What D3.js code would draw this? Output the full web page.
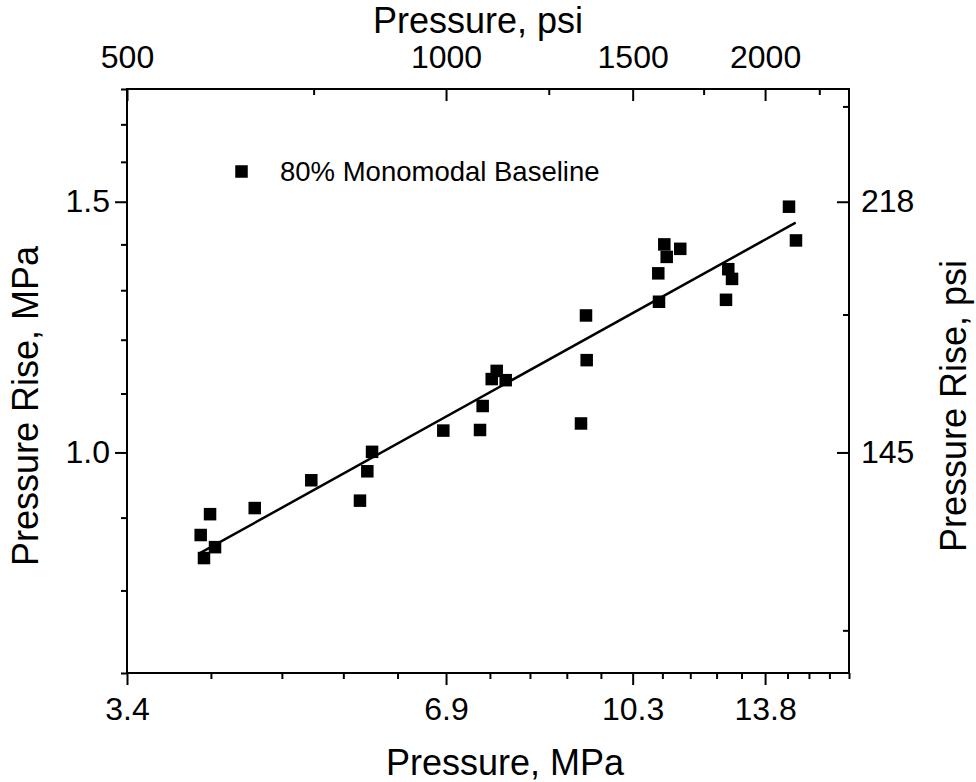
<!DOCTYPE html>
<html>
<head>
<meta charset="utf-8">
<script src="https://cdn.jsdelivr.net/npm/d3@7"></script>
<style>
  body { margin: 0; background: #fff; }
  svg { font-family: Arial, "Liberation Sans", sans-serif; }
</style>
</head>
<body>
<div id="wrapper"></div>
<script>
const PSI_TO_MPA = 0.0068948

// measured points (both in MPa)
const pressureMPa = [4.046, 4.075, 4.129, 4.174, 4.550, 5.145, 5.719, 5.811, 5.871, 6.854,
  7.423, 7.466, 7.614, 7.697, 7.849, 9.244, 9.359, 9.345, 10.934, 10.951,
  11.078, 11.136, 11.469, 12.667, 12.730, 12.834, 14.525, 14.747]
const riseMPa = [0.875, 0.843, 0.905, 0.858, 0.914, 0.956, 0.925, 0.970, 1.001, 1.036,
  1.037, 1.078, 1.126, 1.141, 1.124, 1.048, 1.161, 1.248, 1.336, 1.276,
  1.400, 1.372, 1.390, 1.280, 1.345, 1.324, 1.488, 1.409]

// fitted line end points
const fitPressureMPa = [4.043, 14.737]
const fitRiseMPa = [0.850, 1.450]

const seriesName = "80% Monomodal Baseline"

// axes
const pressureRangePsi = [500, 2400]
const riseRangeMPa = [0.7, 1.8]

const bottomMinorPsi = [600, 700, 800, 900, 1100, 1200, 1300, 1400, 1600, 1700, 1800, 1900, 2100, 2200, 2300, 2400]
const bottomMajorPsi = [500, 1000, 1500, 2000]
const bottomLabels = ["3.4", "6.9", "10.3", "13.8"]

const topMinorPsi = [750, 1250, 1750, 2250]
const topMajorPsi = [500, 1000, 1500, 2000]
const topLabels = ["500", "1000", "1500", "2000"]

const leftMinorMPa = [0.7, 0.8, 0.9, 1.1, 1.2, 1.3, 1.4, 1.6, 1.7, 1.8]
const leftMajorMPa = [1.0, 1.5]
const leftLabels = ["1.0", "1.5"]

const rightMinorMPa = [0.75, 1.25, 1.75]
const rightMajorMPa = [1.0, 1.5]
const rightLabels = ["145", "218"]

function drawChart() {
    const dataset = pressureMPa.map((p, i) => ({ p: p, r: riseMPa[i] }))
    const xAccessor = d => d.p
    const yAccessor = d => d.r

    const tickFont = 32
    const titleFont = 36

    let dimensions = {
      width: 976,
      height: 782,
      margin: {
        top: 89,
        right: 127,
        bottom: 109,
        left: 127,
      },
    }
    dimensions.boundedWidth = dimensions.width
      - dimensions.margin.left
      - dimensions.margin.right
    dimensions.boundedHeight = dimensions.height
      - dimensions.margin.top
      - dimensions.margin.bottom

    const wrapper = d3.select("#wrapper")
        .append("svg")
        .attr("width", dimensions.width)
        .attr("height", dimensions.height)

    const bounds = wrapper.append("g")
        .attr("transform", `translate(${dimensions.margin.left}, ${dimensions.margin.top})`)

    const xScaler = d3.scaleLog()
        .domain(pressureRangePsi.map(p => p * PSI_TO_MPA))
        .range([0, dimensions.boundedWidth])
    const xPsiScaler = d3.scaleLog()
        .domain(pressureRangePsi)
        .range([0, dimensions.boundedWidth])
    const yScaler = d3.scaleLog()
        .domain(riseRangeMPa)
        .range([dimensions.boundedHeight, 0])

    const styleAxis = g => {
        g.select(".domain").remove()
        g.selectAll(".tick line").attr("stroke", "#000").attr("stroke-width", 2)
        g.selectAll("text").attr("font-size", tickFont).attr("fill", "#000")
            .attr("font-family", "Arial, 'Liberation Sans', sans-serif")
    }

    // bottom axis (MPa)
    bounds.append("g")
        .attr("transform", `translate(0, ${dimensions.boundedHeight})`)
        .call(d3.axisBottom(xScaler)
            .tickValues(bottomMinorPsi.map(p => p * PSI_TO_MPA))
            .tickSize(6).tickFormat(""))
        .call(styleAxis)
    bounds.append("g")
        .attr("transform", `translate(0, ${dimensions.boundedHeight})`)
        .call(d3.axisBottom(xScaler)
            .tickValues(bottomMajorPsi.map(p => p * PSI_TO_MPA))
            .tickSize(12).tickPadding(12)
            .tickFormat((d, i) => bottomLabels[i]))
        .call(styleAxis)

    // top axis (psi), ticks inward
    bounds.append("g")
        .call(d3.axisTop(xPsiScaler)
            .tickValues(topMinorPsi)
            .tickSizeInner(-6).tickSizeOuter(0).tickFormat(""))
        .call(styleAxis)
    bounds.append("g")
        .call(d3.axisTop(xPsiScaler)
            .tickValues(topMajorPsi)
            .tickSizeInner(-12).tickSizeOuter(0).tickPadding(21)
            .tickFormat((d, i) => topLabels[i]))
        .call(styleAxis)

    // left axis (MPa)
    bounds.append("g")
        .call(d3.axisLeft(yScaler)
            .tickValues(leftMinorMPa)
            .tickSize(6).tickFormat(""))
        .call(styleAxis)
    bounds.append("g")
        .call(d3.axisLeft(yScaler)
            .tickValues(leftMajorMPa)
            .tickSize(12).tickPadding(5)
            .tickFormat((d, i) => leftLabels[i]))
        .call(styleAxis)

    // right axis (psi labels), ticks inward
    bounds.append("g")
        .attr("transform", `translate(${dimensions.boundedWidth}, 0)`)
        .call(d3.axisRight(yScaler)
            .tickValues(rightMinorMPa)
            .tickSizeInner(-6).tickSizeOuter(0).tickFormat(""))
        .call(styleAxis)
    bounds.append("g")
        .attr("transform", `translate(${dimensions.boundedWidth}, 0)`)
        .call(d3.axisRight(yScaler)
            .tickValues(rightMajorMPa)
            .tickSizeInner(-12).tickSizeOuter(0).tickPadding(12)
            .tickFormat((d, i) => rightLabels[i]))
        .call(styleAxis)

    // frame
    bounds.append("rect")
        .attr("width", dimensions.boundedWidth)
        .attr("height", dimensions.boundedHeight)
        .attr("fill", "none")
        .attr("stroke", "#000")
        .attr("stroke-width", 2)

    // fit line
    const fitLine = d3.line()
        .x((d, i) => xScaler(fitPressureMPa[i]))
        .y(d => yScaler(d))
    bounds.append("path")
        .datum(fitRiseMPa)
        .attr("d", fitLine)
        .attr("fill", "none")
        .attr("stroke", "#000")
        .attr("stroke-width", 2.5)

    // points
    const markerSize = 12.5
    bounds.append("g")
        .selectAll("rect")
        .data(dataset)
        .enter()
        .append("rect")
        .attr("x", d => xScaler(xAccessor(d)) - markerSize / 2)
        .attr("y", d => yScaler(yAccessor(d)) - markerSize / 2)
        .attr("width", markerSize)
        .attr("height", markerSize)
        .attr("fill", "#000")

    // legend
    wrapper.append("rect")
        .attr("x", 241.5 - markerSize / 2)
        .attr("y", 171.5 - markerSize / 2)
        .attr("width", markerSize)
        .attr("height", markerSize)
        .attr("fill", "#000")
    wrapper.append("text")
        .attr("x", 280)
        .attr("y", 181)
        .attr("font-size", 27.5)
        .text(seriesName)

    // titles
    wrapper.append("text")
        .attr("x", 478)
        .attr("y", 33)
        .attr("font-size", titleFont)
        .attr("text-anchor", "middle")
        .text("Pressure, psi")
    wrapper.append("text")
        .attr("x", 505)
        .attr("y", 775)
        .attr("font-size", titleFont)
        .attr("text-anchor", "middle")
        .text("Pressure, MPa")
    wrapper.append("text")
        .attr("transform", "translate(38, 406) rotate(-90)")
        .attr("font-size", titleFont)
        .attr("text-anchor", "middle")
        .text("Pressure Rise, MPa")
    wrapper.append("text")
        .attr("transform", "translate(966, 406) rotate(-90)")
        .attr("font-size", titleFont)
        .attr("text-anchor", "middle")
        .text("Pressure Rise, psi")
}

drawChart()
</script>
</body>
</html>
